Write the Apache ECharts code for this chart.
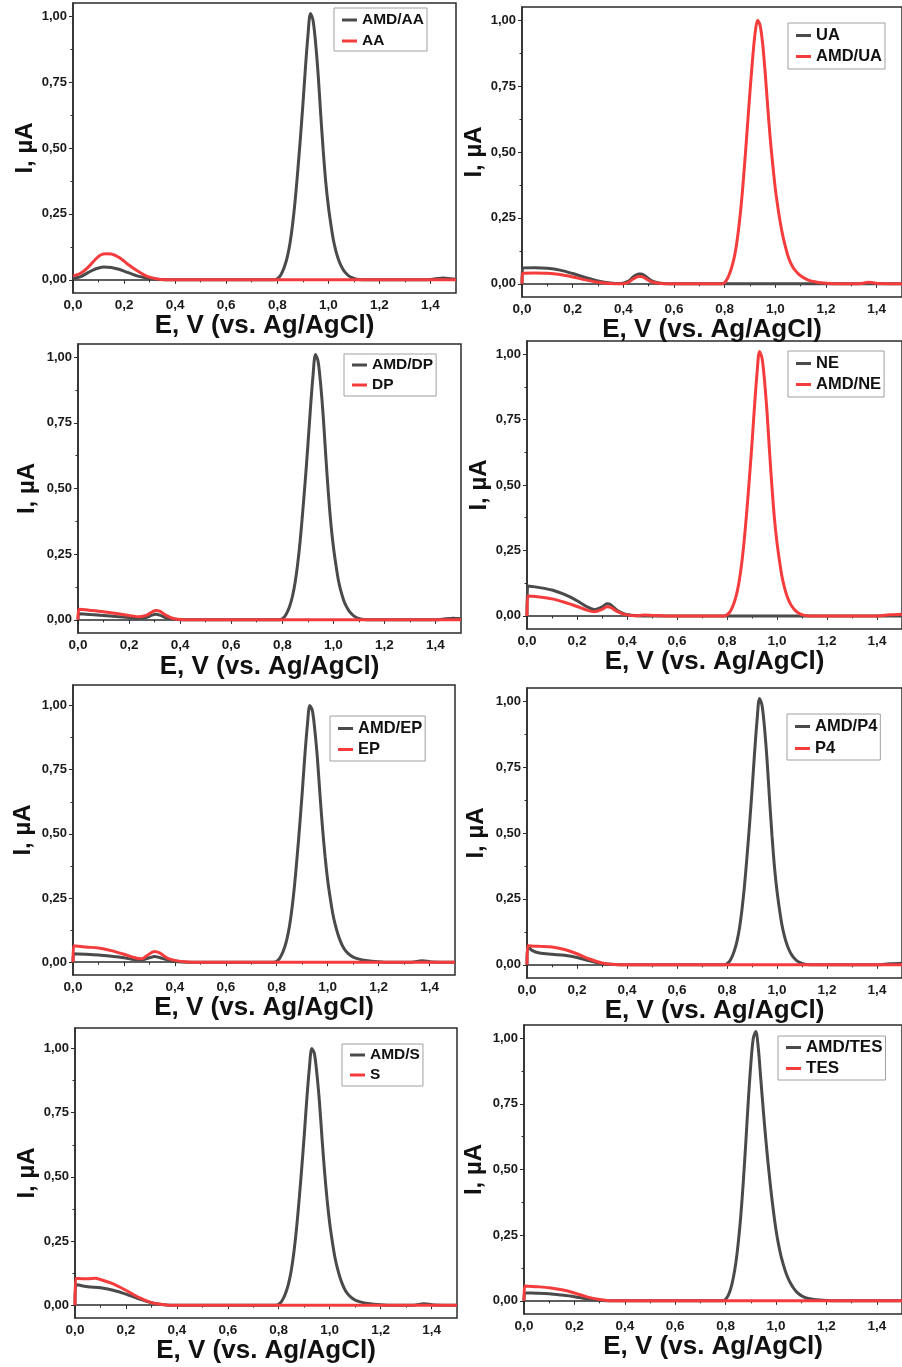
<!DOCTYPE html>
<html><head><meta charset="utf-8">
<script src="https://cdn.jsdelivr.net/npm/echarts@6/dist/echarts.min.js"></script>
<style>html,body{margin:0;padding:0;background:#fff}#c{width:902px;height:1367px}</style>
</head><body><div id="c"></div>
<script>
// ---- tick labels ----
const xTickValues = [0, 0.2, 0.4, 0.6, 0.8, 1.0, 1.2, 1.4];
const xMinorValues = [0.1, 0.3, 0.5, 0.7, 0.9, 1.1, 1.3];
const yTickValues = [0, 0.25, 0.5, 0.75, 1.0];
const yMinorValues = [0.125, 0.375, 0.625, 0.875];
const xTitle = 'E, V (vs. Ag/AgCl)';
const yTitle = 'I, \u00b5A';

// ---- data: [E (V), I (µA)] ----
const aaAMD = [[0,0.005],[0.03,0.012],[0.06,0.028],[0.09,0.042],[0.12,0.049],[0.15,0.047],[0.18,0.04],[0.2,0.033],[0.25,0.015],[0.3,0.005],[0.34,0.001],[0.4,0],[0.79,0],[0.8,0.004],[0.81,0.013],[0.82,0.03],[0.83,0.055],[0.84,0.09],[0.85,0.14],[0.86,0.21],[0.87,0.3],[0.88,0.41],[0.89,0.53],[0.9,0.66],[0.91,0.8],[0.92,0.925],[0.93,1.01],[0.94,0.985],[0.95,0.9],[0.96,0.78],[0.97,0.63],[0.98,0.49],[0.99,0.37],[1.0,0.28],[1.01,0.21],[1.02,0.15],[1.03,0.108],[1.04,0.076],[1.05,0.053],[1.06,0.036],[1.07,0.024],[1.08,0.015],[1.09,0.009],[1.1,0.005],[1.12,0.001],[1.15,0],[1.38,0],[1.42,0.004],[1.45,0.007],[1.48,0.004],[1.5,0.002]];
const aaAA = [[0,0.015],[0.03,0.025],[0.06,0.048],[0.09,0.08],[0.11,0.095],[0.13,0.099],[0.15,0.098],[0.18,0.085],[0.2,0.071],[0.22,0.055],[0.25,0.035],[0.28,0.018],[0.3,0.01],[0.33,0.003],[0.36,0],[1.5,0]];

const uaUA = [[0,0],[0.003,0.06],[0.05,0.061],[0.1,0.059],[0.15,0.052],[0.2,0.039],[0.25,0.024],[0.3,0.011],[0.35,0.003],[0.39,0.001],[0.42,0.01],[0.44,0.027],[0.46,0.037],[0.47,0.037],[0.49,0.027],[0.51,0.012],[0.54,0.003],[0.58,0],[1.5,0]];
const uaAMD = [[0,0],[0.003,0.04],[0.05,0.041],[0.1,0.04],[0.15,0.035],[0.2,0.026],[0.25,0.015],[0.3,0.006],[0.35,0.001],[0.4,0],[0.42,0.006],[0.44,0.019],[0.46,0.028],[0.47,0.028],[0.49,0.019],[0.51,0.008],[0.54,0.002],[0.58,0],[0.79,0],[0.8,0.005],[0.81,0.018],[0.82,0.04],[0.83,0.07],[0.84,0.11],[0.85,0.17],[0.86,0.25],[0.87,0.35],[0.88,0.47],[0.89,0.6],[0.9,0.73],[0.91,0.85],[0.92,0.95],[0.93,1.0],[0.94,0.98],[0.95,0.91],[0.96,0.8],[0.97,0.67],[0.98,0.55],[0.99,0.45],[1.0,0.36],[1.01,0.29],[1.02,0.23],[1.03,0.18],[1.04,0.14],[1.05,0.105],[1.06,0.08],[1.07,0.062],[1.08,0.049],[1.09,0.039],[1.1,0.031],[1.12,0.019],[1.14,0.011],[1.16,0.007],[1.18,0.004],[1.2,0.002],[1.25,0],[1.33,0],[1.37,0.006],[1.41,0.001],[1.5,0]];

const dpAMD = [[0,0],[0.003,0.023],[0.05,0.02],[0.1,0.017],[0.15,0.013],[0.2,0.009],[0.24,0.006],[0.27,0.01],[0.29,0.018],[0.305,0.021],[0.32,0.018],[0.34,0.01],[0.37,0.003],[0.4,0],[0.79,0],[0.8,0.004],[0.81,0.013],[0.82,0.03],[0.83,0.055],[0.84,0.09],[0.85,0.14],[0.86,0.21],[0.87,0.3],[0.88,0.41],[0.89,0.53],[0.9,0.66],[0.91,0.8],[0.92,0.925],[0.93,1.01],[0.94,0.985],[0.95,0.9],[0.96,0.78],[0.97,0.63],[0.98,0.49],[0.99,0.37],[1.0,0.28],[1.01,0.21],[1.02,0.15],[1.03,0.108],[1.04,0.076],[1.05,0.053],[1.06,0.036],[1.07,0.024],[1.08,0.015],[1.09,0.009],[1.1,0.005],[1.12,0.001],[1.15,0],[1.4,0],[1.44,0.004],[1.47,0.006],[1.5,0.004]];
const dpDP = [[0,0],[0.003,0.04],[0.05,0.036],[0.1,0.031],[0.15,0.024],[0.2,0.017],[0.24,0.012],[0.27,0.018],[0.29,0.03],[0.305,0.036],[0.32,0.033],[0.34,0.02],[0.37,0.006],[0.4,0.001],[0.43,0],[1.5,0]];

const neNE = [[0,0],[0.003,0.114],[0.05,0.108],[0.1,0.099],[0.15,0.082],[0.2,0.058],[0.24,0.035],[0.27,0.024],[0.3,0.034],[0.32,0.046],[0.335,0.043],[0.36,0.022],[0.39,0.008],[0.43,0.002],[0.48,0],[1.5,0]];
const neAMD = [[0,0],[0.003,0.076],[0.05,0.072],[0.1,0.065],[0.15,0.052],[0.2,0.036],[0.24,0.022],[0.27,0.016],[0.3,0.025],[0.32,0.035],[0.335,0.033],[0.36,0.017],[0.39,0.006],[0.43,0.001],[0.47,0.003],[0.5,0.002],[0.55,0],[0.79,0],[0.8,0.004],[0.81,0.013],[0.82,0.03],[0.83,0.055],[0.84,0.09],[0.85,0.14],[0.86,0.21],[0.87,0.3],[0.88,0.41],[0.89,0.53],[0.9,0.66],[0.91,0.8],[0.92,0.925],[0.93,1.01],[0.94,0.985],[0.95,0.9],[0.96,0.78],[0.97,0.63],[0.98,0.49],[0.99,0.37],[1.0,0.28],[1.01,0.21],[1.02,0.15],[1.03,0.108],[1.04,0.076],[1.05,0.053],[1.06,0.036],[1.07,0.024],[1.08,0.015],[1.09,0.009],[1.1,0.005],[1.12,0.001],[1.15,0],[1.4,0],[1.45,0.004],[1.5,0.006]];

const epAMD = [[0,0],[0.003,0.033],[0.05,0.031],[0.1,0.028],[0.15,0.023],[0.2,0.017],[0.24,0.01],[0.27,0.009],[0.3,0.017],[0.32,0.022],[0.34,0.018],[0.37,0.009],[0.4,0.003],[0.45,0],[0.79,0],[0.8,0.004],[0.81,0.013],[0.82,0.03],[0.83,0.055],[0.84,0.09],[0.85,0.14],[0.86,0.21],[0.87,0.3],[0.88,0.41],[0.89,0.53],[0.9,0.66],[0.91,0.8],[0.92,0.92],[0.93,1.0],[0.94,0.98],[0.95,0.9],[0.96,0.79],[0.97,0.65],[0.98,0.52],[0.99,0.41],[1.0,0.32],[1.01,0.25],[1.02,0.19],[1.03,0.145],[1.04,0.11],[1.05,0.082],[1.06,0.06],[1.07,0.045],[1.08,0.034],[1.09,0.026],[1.1,0.02],[1.12,0.013],[1.15,0.007],[1.2,0.002],[1.25,0],[1.33,0],[1.37,0.006],[1.41,0.001],[1.5,0]];
const epEP = [[0,0],[0.003,0.064],[0.05,0.059],[0.1,0.055],[0.15,0.045],[0.2,0.031],[0.24,0.018],[0.27,0.013],[0.29,0.025],[0.32,0.042],[0.34,0.036],[0.37,0.016],[0.4,0.007],[0.45,0.001],[0.5,0],[1.5,0]];

const p4AMD = [[0,0],[0.003,0.07],[0.02,0.055],[0.05,0.045],[0.1,0.04],[0.15,0.036],[0.2,0.028],[0.25,0.015],[0.3,0.005],[0.35,0.001],[0.4,0],[0.79,0],[0.8,0.004],[0.81,0.013],[0.82,0.03],[0.83,0.055],[0.84,0.09],[0.85,0.14],[0.86,0.21],[0.87,0.3],[0.88,0.41],[0.89,0.53],[0.9,0.66],[0.91,0.8],[0.92,0.925],[0.93,1.01],[0.94,0.985],[0.95,0.9],[0.96,0.78],[0.97,0.63],[0.98,0.49],[0.99,0.37],[1.0,0.28],[1.01,0.21],[1.02,0.15],[1.03,0.108],[1.04,0.076],[1.05,0.053],[1.06,0.036],[1.07,0.024],[1.08,0.015],[1.09,0.009],[1.1,0.005],[1.12,0.001],[1.15,0],[1.4,0],[1.45,0.004],[1.5,0.006]];
const p4P4 = [[0,0],[0.003,0.072],[0.05,0.07],[0.1,0.068],[0.15,0.058],[0.2,0.042],[0.25,0.022],[0.3,0.007],[0.35,0.001],[0.4,0],[1.5,0]];

const sAMD = [[0,0],[0.003,0.081],[0.05,0.072],[0.1,0.068],[0.15,0.058],[0.2,0.043],[0.25,0.025],[0.3,0.01],[0.35,0.002],[0.4,0],[0.79,0],[0.8,0.004],[0.81,0.013],[0.82,0.03],[0.83,0.055],[0.84,0.09],[0.85,0.14],[0.86,0.21],[0.87,0.3],[0.88,0.41],[0.89,0.53],[0.9,0.66],[0.91,0.8],[0.92,0.92],[0.93,1.0],[0.94,0.98],[0.95,0.9],[0.96,0.79],[0.97,0.65],[0.98,0.52],[0.99,0.41],[1.0,0.32],[1.01,0.25],[1.02,0.19],[1.03,0.145],[1.04,0.11],[1.05,0.082],[1.06,0.06],[1.07,0.045],[1.08,0.034],[1.09,0.026],[1.1,0.02],[1.12,0.013],[1.15,0.007],[1.2,0.002],[1.25,0],[1.33,0],[1.37,0.006],[1.41,0.001],[1.5,0]];
const sS = [[0,0],[0.003,0.104],[0.05,0.103],[0.08,0.105],[0.1,0.1],[0.15,0.083],[0.2,0.058],[0.25,0.03],[0.3,0.01],[0.35,0.002],[0.4,0],[1.5,0]];

const tesAMD = [[0,0],[0.003,0.03],[0.05,0.029],[0.1,0.027],[0.15,0.022],[0.2,0.016],[0.25,0.008],[0.3,0.002],[0.35,0],[0.79,0],[0.8,0.006],[0.81,0.02],[0.82,0.045],[0.83,0.085],[0.84,0.14],[0.85,0.22],[0.86,0.32],[0.87,0.45],[0.88,0.6],[0.89,0.76],[0.9,0.9],[0.91,1.0],[0.92,1.025],[0.93,0.96],[0.94,0.84],[0.95,0.72],[0.96,0.61],[0.97,0.51],[0.98,0.42],[0.99,0.34],[1.0,0.27],[1.01,0.215],[1.02,0.17],[1.03,0.135],[1.04,0.105],[1.05,0.082],[1.06,0.063],[1.07,0.048],[1.08,0.036],[1.09,0.027],[1.1,0.02],[1.12,0.011],[1.15,0.005],[1.2,0.001],[1.25,0],[1.5,0]];
const tesTES = [[0,0],[0.003,0.057],[0.05,0.054],[0.1,0.05],[0.15,0.042],[0.2,0.03],[0.25,0.015],[0.3,0.005],[0.35,0],[1.5,0]];

// ---- panels (layout separate from data) ----
const panels = [
  {names:['AMD/AA','AA'], data:[aaAMD, aaAA], grid:[73,3,383,290], ymax:1.05, leg:[334,8], fs:15.5, lh:15, gap:5, pad:[4,3,2,8], yGap:32, xGap:18},
  {names:['UA','AMD/UA'], data:[uaUA, uaAMD], grid:[522,7,383,290], ymax:1.05, leg:[788,23], fs:16.5, lh:16, gap:4, pad:[4,3,4,8], yGap:36, xGap:16},
  {names:['AMD/DP','DP'], data:[dpAMD, dpDP], grid:[78,344,383,289], ymax:1.05, leg:[344,354], fs:15.5, lh:15, gap:4, pad:[3,3,3,8], yGap:39, xGap:21},
  {names:['NE','AMD/NE'], data:[neNE, neAMD], grid:[527,341,383,288], ymax:1.05, leg:[788,351], fs:16.5, lh:16, gap:4, pad:[4,3,4,8], yGap:36, xGap:17},
  {names:['AMD/EP','EP'], data:[epAMD, epEP], grid:[73,685,382,290], ymax:1.08, leg:[330,716], fs:16.5, lh:16, gap:4, pad:[4,3,3,8], yGap:38, xGap:16},
  {names:['AMD/P4','P4'], data:[p4AMD, p4P4], grid:[527,688,383,290], ymax:1.05, leg:[787,714], fs:16.5, lh:16, gap:5, pad:[4,3,3,8], yGap:39, xGap:18},
  {names:['AMD/S','S'], data:[sAMD, sS], grid:[75,1028,382,290], ymax:1.08, leg:[342,1044], fs:15.5, lh:15, gap:4, pad:[3,3,3,8], yGap:35, xGap:18},
  {names:['AMD/TES','TES'], data:[tesAMD, tesTES], grid:[524,1025,383,289], ymax:1.05, leg:[778,1036], fs:17, lh:17, gap:4, pad:[3,3,3,8], yGap:38, xGap:17}
];
const COLORS = ['#4a4a4a', '#f43c3c'];
const FONT = "'Liberation Sans', Arial, sans-serif";
const AX = '#2b2b2b';

const option = {animation:false, backgroundColor:'#ffffff', grid:[], xAxis:[], yAxis:[], legend:[], series:[]};
panels.forEach((p, i) => {
  option.grid.push({left:p.grid[0], top:p.grid[1], width:p.grid[2], height:p.grid[3], show:true,
    borderColor:AX, borderWidth:1.5, backgroundColor:'transparent', containLabel:false});
  option.xAxis.push({type:'value', gridIndex:i, min:0, max:1.5,
    name:xTitle, nameLocation:'middle', nameGap:p.xGap,
    nameTextStyle:{fontFamily:FONT, fontWeight:'bold', fontSize:26, color:'#111'},
    axisLine:{lineStyle:{color:AX, width:1.5}},
    axisTick:{length:4, customValues:xTickValues, lineStyle:{color:AX, width:1}},
    splitLine:{show:false},
    axisLabel:{customValues:xTickValues, margin:5, fontFamily:FONT, fontWeight:'bold', fontSize:13.5, color:'#1a1a1a',
      formatter:v => v.toFixed(1).replace('.', ',')}
  });
  option.yAxis.push({type:'value', gridIndex:i, min:-0.05, max:p.ymax,
    name:yTitle, nameLocation:'middle', nameGap:p.yGap,
    nameTextStyle:{fontFamily:FONT, fontWeight:'bold', fontSize:24, color:'#111'},
    axisLine:{show:true, lineStyle:{color:AX, width:1.5}},
    axisTick:{show:true, length:4, customValues:yTickValues, lineStyle:{color:AX, width:1}},
    splitLine:{show:false},
    axisLabel:{customValues:yTickValues, margin:6, fontFamily:FONT, fontWeight:'bold', fontSize:13, color:'#1a1a1a',
      formatter:v => v.toFixed(2).replace('.', ',')}
  });
  option.yAxis.push({type:'value', gridIndex:i, min:-0.05, max:p.ymax, position:'left',
    axisLine:{show:false}, splitLine:{show:false}, axisLabel:{show:false},
    axisTick:{show:true, length:2.5, customValues:yMinorValues, lineStyle:{color:AX, width:1}}
  });
  option.legend.push({data:p.names, orient:'vertical', left:p.leg[0], top:p.leg[1],
    padding:p.pad, itemGap:p.gap, itemWidth:15, itemHeight:3, icon:'rect',
    borderColor:'#a0a0a0', borderWidth:1, backgroundColor:'#fff',
    textStyle:{fontFamily:FONT, fontWeight:'bold', fontSize:p.fs, lineHeight:p.lh, color:'#111'},
    selectedMode:false
  });
  p.names.forEach((nm, k) => {
    option.series.push({type:'line', name:nm, xAxisIndex:i, yAxisIndex:2*i, data:p.data[k],
      symbol:'none', smooth:0.3, clip:true,
      lineStyle:{color:COLORS[k], width:3}, itemStyle:{color:COLORS[k]}, z:2+k});
  });
});
// minor x ticks via an extra label-less x axis per grid
panels.forEach((p, i) => {
  option.xAxis.push({type:'value', gridIndex:i, min:0, max:1.5, position:'bottom',
    axisLine:{show:false}, splitLine:{show:false}, axisLabel:{show:false},
    axisTick:{show:true, length:2.5, customValues:xMinorValues, lineStyle:{color:AX, width:1}}});
});
const chart = echarts.init(document.getElementById('c'), null, {renderer:'canvas'});
chart.setOption(option);
</script></body></html>
